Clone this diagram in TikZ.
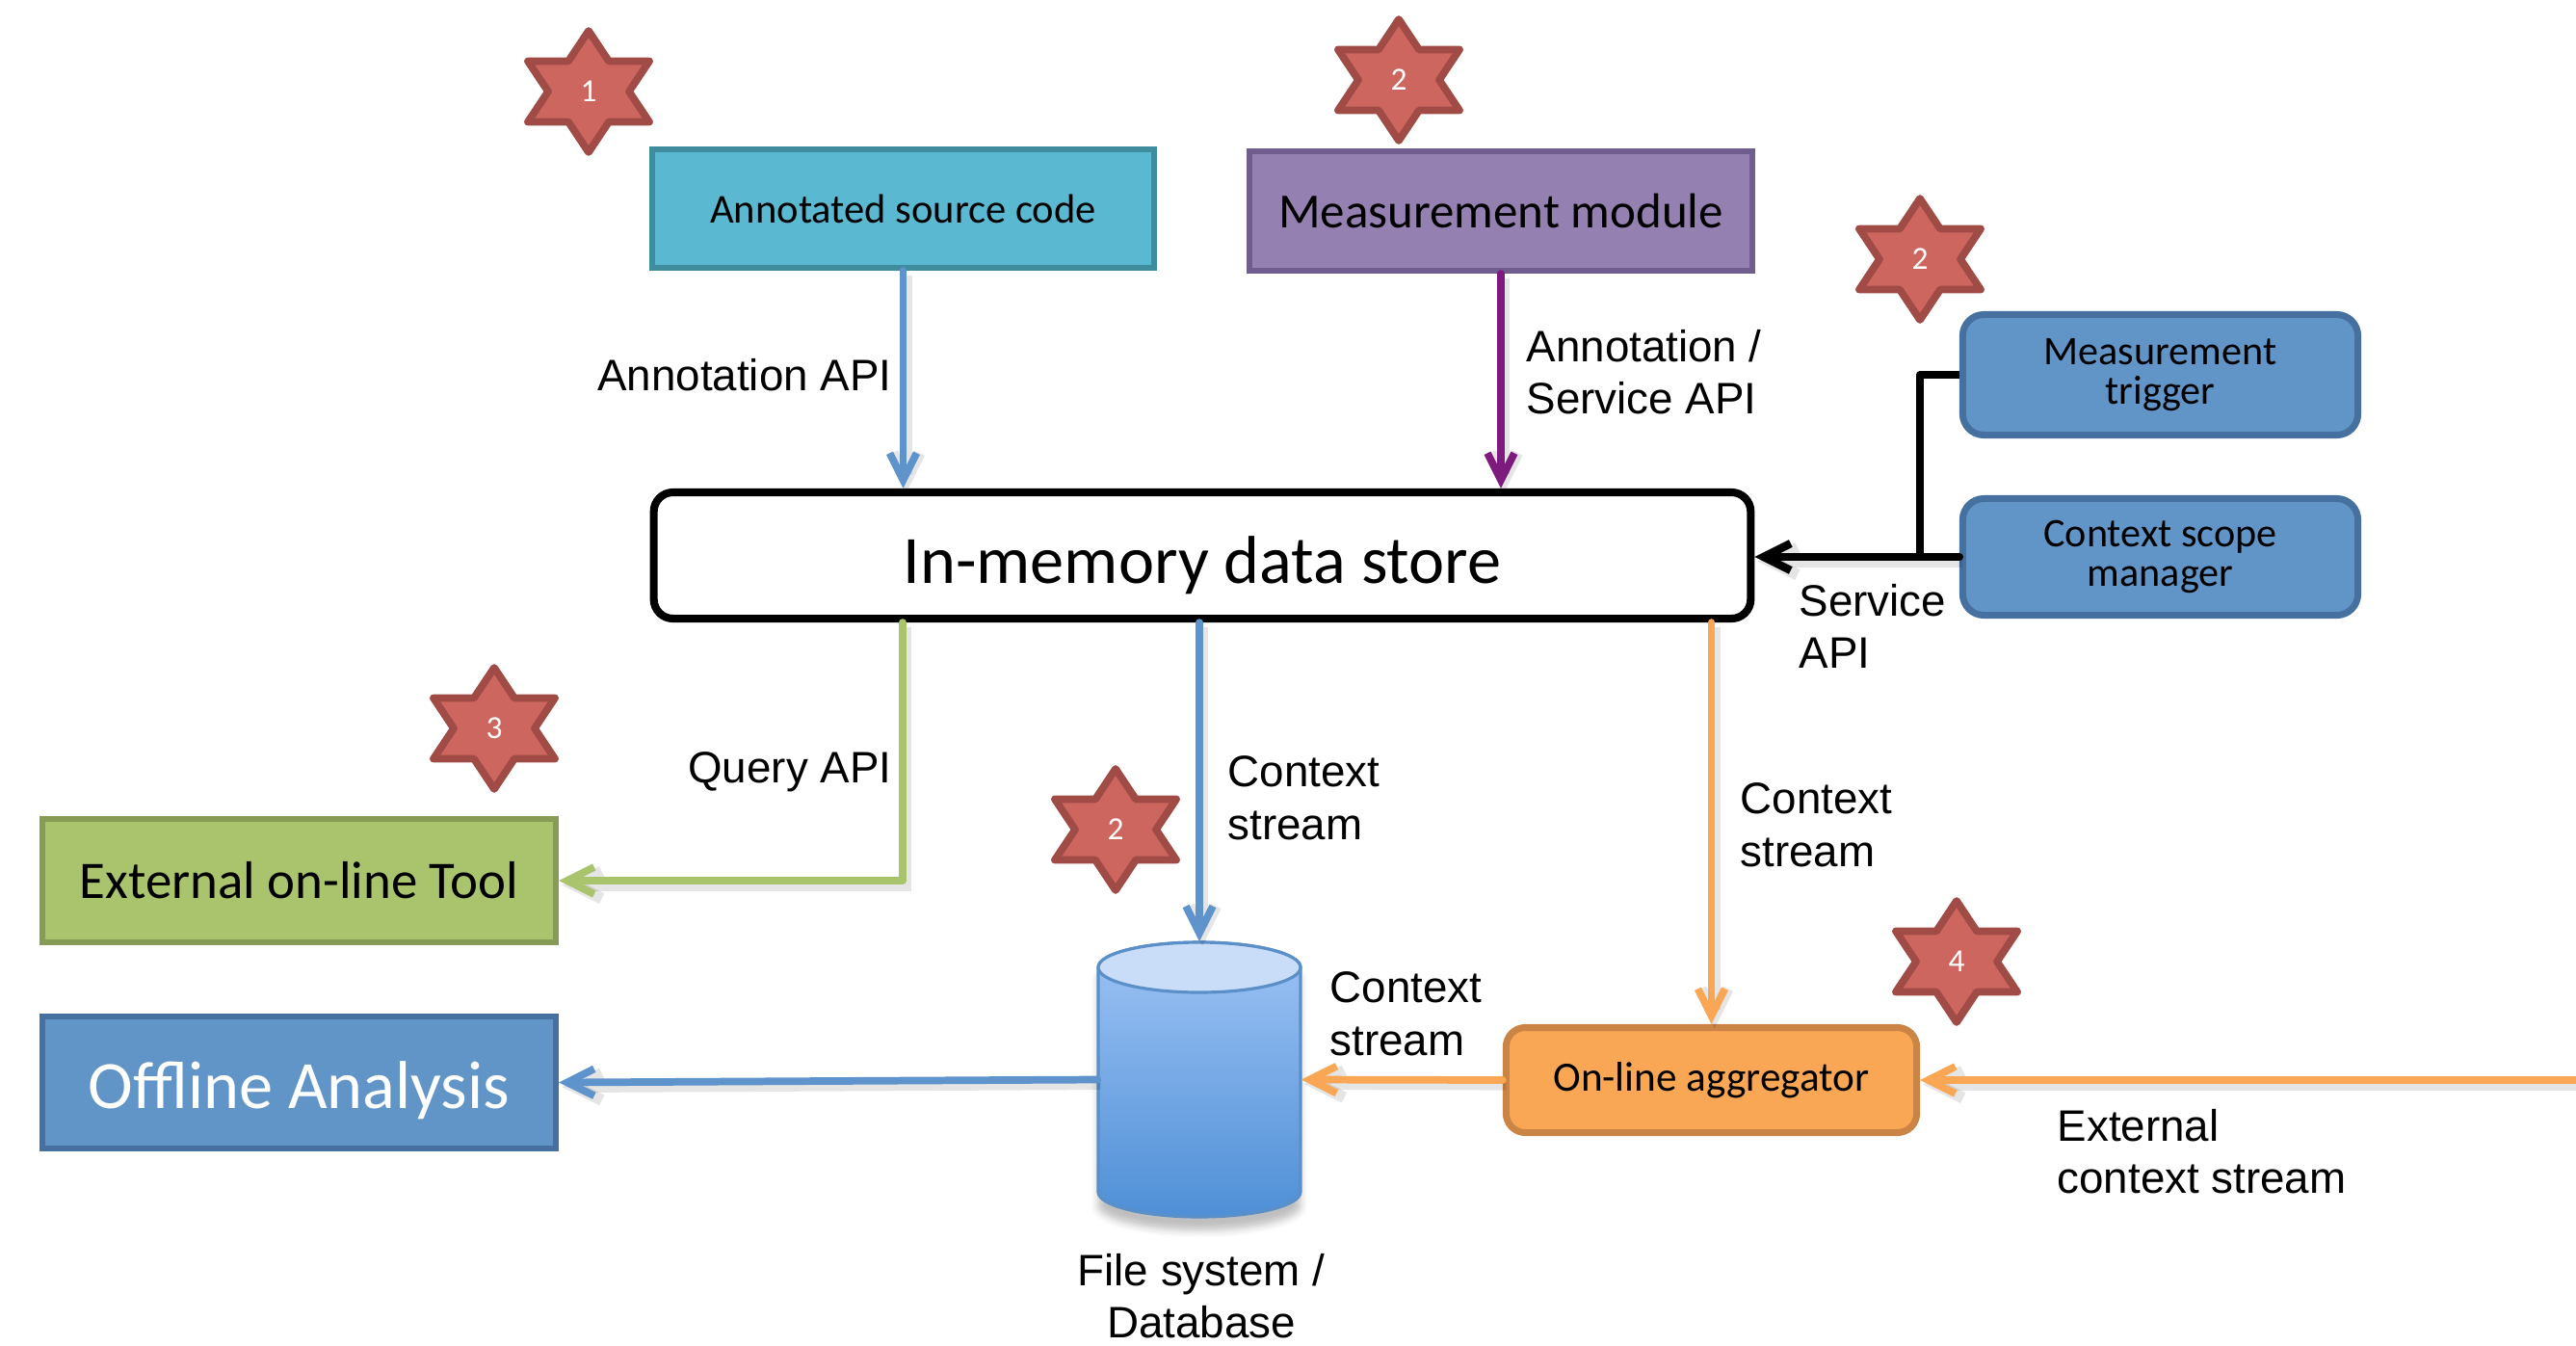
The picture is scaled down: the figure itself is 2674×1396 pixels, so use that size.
\documentclass[tikz,border=0pt]{standalone}
\usepackage{fontspec}
\setmainfont{Liberation Sans}
\newfontfamily\boxfont{Carlito}
\usetikzlibrary{arrows.meta,shadows.blur}

\definecolor{srcfill}{HTML}{5BB8D1}
\definecolor{srcline}{HTML}{3F8C9F}
\definecolor{measfill}{HTML}{9480B1}
\definecolor{measline}{HTML}{6F5D8D}
\definecolor{bluefill}{HTML}{6195C8}
\definecolor{blueline}{HTML}{46709F}
\definecolor{greenfill}{HTML}{AAC46D}
\definecolor{greenline}{HTML}{879B55}
\definecolor{orangefill}{HTML}{F9A755}
\definecolor{orangeline}{HTML}{C98446}
\definecolor{starfill}{HTML}{CD665E}
\definecolor{starline}{HTML}{A04B45}
\definecolor{cblue}{HTML}{5F93CB}
\definecolor{cpurple}{HTML}{7D1B7E}
\definecolor{cgreen}{HTML}{A9C46C}
\definecolor{corange}{HTML}{F9A755}
\definecolor{cyltop}{HTML}{C9DDF9}
\definecolor{cylhi}{HTML}{9DC3F5}
\definecolor{cyllo}{HTML}{4F8FD6}
\definecolor{cylline}{HTML}{5A8FC8}

\tikzset{
  box/.style={draw, line width=1.7pt, inner sep=0pt, align=center},
  rbox/.style={box, line width=2pt, rounded corners=0.22cm},
  lbl/.style={inner sep=0pt, font=\fontsize{13}{15.5}\selectfont},
  starnum/.style={inner sep=0pt, text=white, font=\boxfont\fontsize{9.5}{11}\selectfont},
  conn/.style={line width=2.2pt, line cap=round, line join=round,
    -{Straight Barb[length=2.8mm,width=2.8mm]},
    preaction={draw=black, draw opacity=0.10, line width=3.4pt,
      transform canvas={xshift=0.9pt,yshift=-1.3pt}}},
  hexstar/.pic={
    \draw[fill=starfill, draw=starline, line width=2.2pt, line join=round]
      (0,-63)--(-21,-31.5)--(-63,-31.5)--(-42,0)--(-63,31.5)--(-21,31.5)
      --(0,63)--(21,31.5)--(63,31.5)--(42,0)--(63,-31.5)--(21,-31.5)--cycle;
  }
}

\begin{document}
\begin{tikzpicture}[x=0.01cm,y=-0.01cm]
\useasboundingbox (0,0) rectangle (2674,1396);

% main boxes
\node[box, fill=srcfill, draw=srcline, minimum width=5.21cm, minimum height=1.23cm,
      font=\boxfont\fontsize{12.1}{14}\selectfont] (src) at (937.5,216.5) {Annotated source code};
\node[box, fill=measfill, draw=measline, minimum width=5.22cm, minimum height=1.24cm,
      font=\boxfont\fontsize{14.5}{16}\selectfont] (meas) at (1558,219) {Measurement module};
\node[box, draw=black, line width=2.3pt, fill=white, rounded corners=0.2cm,
      minimum width=11.38cm, minimum height=1.31cm, text height=16.2pt, text depth=0pt,
      font=\boxfont\fontsize{20}{23}\selectfont] (store) at (1248,576.5) {In-memory data store};
\node[rbox, fill=bluefill, draw=blueline, minimum width=4.10cm, minimum height=1.25cm,
      font=\boxfont\fontsize{12}{11.7}\selectfont] (trig) at (2242.5,389) {Measurement\\trigger};
\node[rbox, fill=bluefill, draw=blueline, minimum width=4.10cm, minimum height=1.21cm,
      font=\boxfont\fontsize{12}{11.7}\selectfont] (csm) at (2242.5,578) {Context scope\\manager};
\node[box, fill=greenfill, draw=greenline, minimum width=5.33cm, minimum height=1.28cm,
      font=\boxfont\fontsize{15.6}{17}\selectfont] (ext) at (310.5,914) {External on-line Tool};
\node[box, fill=bluefill, draw=blueline, minimum width=5.33cm, minimum height=1.37cm,
      text height=15.6pt, text depth=0pt,
      text=white, font=\boxfont\fontsize{20}{24}\selectfont] (off) at (310.5,1123.5) {Offline Analysis};
\node[rbox, fill=orangefill, draw=orangeline, minimum width=4.26cm, minimum height=1.09cm,
      rounded corners=0.2cm, font=\boxfont\fontsize{12.3}{14}\selectfont] (agg) at (1776.5,1121) {On-line aggregator};

% database cylinder
\node[inner sep=0pt, minimum width=2.1cm, minimum height=2.85cm] (db) at (1245,1120.5) {};
\path[top color=cylhi, bottom color=cyllo, draw=cylline, line width=0.9pt,
      blur shadow={shadow xshift=0pt, shadow yshift=-4pt, shadow opacity=25}]
  (1140,1004) -- (1140,1237) arc[start angle=180, end angle=0, x radius=105, y radius=26]
  -- (1350,1004) arc[start angle=0, end angle=-180, x radius=105, y radius=26] -- cycle;
\draw[fill=cyltop, draw=cylline, line width=0.9pt] (1245,1004) ellipse[x radius=105, y radius=26];

% numbered stars
\pic at (611,95) {hexstar};   \node[starnum] (n1) at (611,95) {1};
\pic at (1452,83) {hexstar};  \node[starnum] (n2a) at (1452,83) {2};
\pic at (1993,269) {hexstar}; \node[starnum] (n2b) at (1993,269) {2};
\pic at (513,756) {hexstar};  \node[starnum] (n3) at (513,756) {3};
\pic at (1158,861) {hexstar}; \node[starnum] (n2c) at (1158,861) {2};
\pic at (2031,998) {hexstar}; \node[starnum] (n4) at (2031,998) {4};

% helper points for connectors
\coordinate (jn) at (1993,578);
\coordinate (qx) at (937,0);
\coordinate (extin) at (2674,1121);

% connectors
\draw[conn, cblue] (src.south) -- (src.south |- store.north);
\draw[conn, cpurple] (meas.south) -- (meas.south |- store.north);
\draw[line width=2.4pt, line join=round] (trig.west) -| (jn);
\draw[conn, black, line width=2.4pt] (csm.west) -- (csm.west -| store.east);
\draw[conn, cgreen] (qx |- store.south) |- (ext.east);
\draw[conn, cblue] (db.north |- store.south) -- (db.north);
\draw[conn, corange] (agg.north |- store.south) -- (agg.north);
\draw[conn, corange] (agg.west) -- (db.east);
\draw[conn, corange] (extin) -- (agg.east);
\draw[conn, cblue] (db.west) -- (off.east);

% connector labels
\node[lbl, anchor=east] (l1) at (926,389) {Annotation API};
\node[lbl, anchor=west, align=left] (l2) at (1584,386) {Annotation /\\Service API};
\node[lbl, anchor=west, align=left] (l3) at (1867,650) {Service\\API};
\node[lbl, anchor=east] (l4) at (926,801) {Query API};
\node[lbl, anchor=west, align=left] (l5) at (1274,828) {Context\\stream};
\node[lbl, anchor=west, align=left] (l6) at (1806,856) {Context\\stream};
\node[lbl, anchor=west, align=left] (l7) at (1380,1052) {Context\\stream};
\node[lbl, anchor=west, align=left] (l8) at (2135,1195) {External\\context stream};
\node[lbl, align=center] (l9) at (1247,1345) {File system /\\Database};
\end{tikzpicture}
\end{document}
